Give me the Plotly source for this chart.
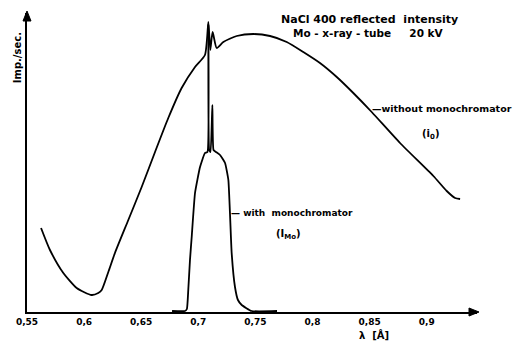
import plotly.graph_objects as go

# Without monochromator (i0): wavelength [Å] and intensity (arb. units)
lam_i0 = [0.5623, 0.5701, 0.5818, 0.5935, 0.6066, 0.6124, 0.6154, 0.6212, 0.6270,
          0.6387, 0.6504, 0.6621, 0.6737, 0.6854, 0.6971, 0.7058,
          0.7088, 0.7105, 0.7125, 0.7161, 0.7219, 0.7336, 0.7481, 0.7628,
          0.7774, 0.7919, 0.8065, 0.8212, 0.8357, 0.8518, 0.8766, 0.9058, 0.9175,
          0.9248, 0.9292]
int_i0 = [84, 62, 39, 24, 17, 19, 22, 40, 59,
          92, 125, 160, 194, 224, 245, 257,
          290, 262, 280, 264, 270, 276, 278, 276,
          270, 260, 249, 235, 219, 200, 169, 136, 121,
          114, 113]

# With monochromator (I_Mo)
lam_imo = [0.677, 0.6883, 0.690, 0.6912, 0.6927, 0.6942, 0.6971, 0.7015, 0.7058,
           0.708, 0.7088, 0.7095, 0.7107, 0.7123, 0.7133, 0.7155,
           0.719, 0.7234, 0.7263, 0.7277, 0.7292, 0.7321, 0.7347, 0.738, 0.7467, 0.7689]
int_imo = [1, 1, 3, 22, 52, 75, 119, 145, 159,
           160, 287, 162, 160, 207, 162, 160,
           157, 149, 132, 99, 59, 25, 12, 7, 1, 1]

tick_vals = [0.55, 0.6, 0.65, 0.7, 0.75, 0.8, 0.85, 0.9]
tick_text = ["0,55", "0,6", "0,65", "0,7", "0,75", "0,8", "0,85", "0,9"]

X0, X1 = 0.55, 0.944
Y0, Y1 = 0, 299

fig = go.Figure()
fig.add_trace(go.Scatter(x=lam_i0, y=int_i0, mode="lines",
                         line=dict(color="black", width=1.8, shape="spline", smoothing=0.6),
                         hoverinfo="skip", showlegend=False))
fig.add_trace(go.Scatter(x=lam_imo, y=int_imo, mode="lines",
                         line=dict(color="black", width=1.8, shape="spline", smoothing=0.4),
                         hoverinfo="skip", showlegend=False))

def txt(x, y, text, size=10, xanchor="center", angle=0):
    return dict(x=x, y=y, xref="paper", yref="paper", text=text, showarrow=False,
                xanchor=xanchor, yanchor="middle", textangle=angle,
                font=dict(family="DejaVu Sans", size=size, color="black"))

annotations = [
    # axis titles
    txt(-0.022, 0.849, "<b>Imp./sec.</b>", size=10, angle=-90),
    txt(0.771, -0.077, "<b>λ  [Å]</b>", size=10),
    # title lines
    txt(0.762, 0.977, "<b>NaCl 400 reflected  intensity</b>", size=11),
    txt(0.758, 0.933, "<b>Mo - x-ray - tube     20 kV</b>", size=10.5),
    # curve labels
    txt(0.762, 0.679, "<b>—without monochromator</b>", size=9.5, xanchor="left"),
    txt(0.896, 0.595, "<b>(i<sub>0</sub>)</b>", size=10),
    txt(0.449, 0.331, "<b>— with  monochromator</b>", size=9, xanchor="left"),
    txt(0.58, 0.258, "<b>(I<sub>Mo</sub>)</b>", size=10),
]

# axis arrowheads (pixel-sized triangles anchored at axis ends)
shapes = [
    dict(type="path", xref="paper", yref="paper", xsizemode="pixel", ysizemode="pixel",
         xanchor=1, yanchor=0, path="M 2,0 L -8,4 L -8,-4 Z",
         fillcolor="black", line=dict(color="black", width=1)),
    dict(type="path", xref="paper", yref="paper", xsizemode="pixel", ysizemode="pixel",
         xanchor=0, yanchor=1, path="M 0,2 L -4,-8 L 4,-8 Z",
         fillcolor="black", line=dict(color="black", width=1)),
]

fig.update_layout(
    width=515, height=344,
    margin=dict(l=27, r=38, t=13, b=32),
    paper_bgcolor="white", plot_bgcolor="white",
    xaxis=dict(range=[X0, X1], showgrid=False, zeroline=False,
               showline=True, linecolor="black", linewidth=1.5,
               tickvals=tick_vals, ticktext=tick_text, ticks="",
               tickfont=dict(family="DejaVu Sans", size=9, color="black", weight="bold"),
               fixedrange=True),
    yaxis=dict(range=[Y0, Y1], showgrid=False, zeroline=False,
               showline=True, linecolor="black", linewidth=1.5,
               showticklabels=False, ticks="", fixedrange=True),
    annotations=annotations,
    shapes=shapes,
    showlegend=False,
)

fig.write_html("out.html")
